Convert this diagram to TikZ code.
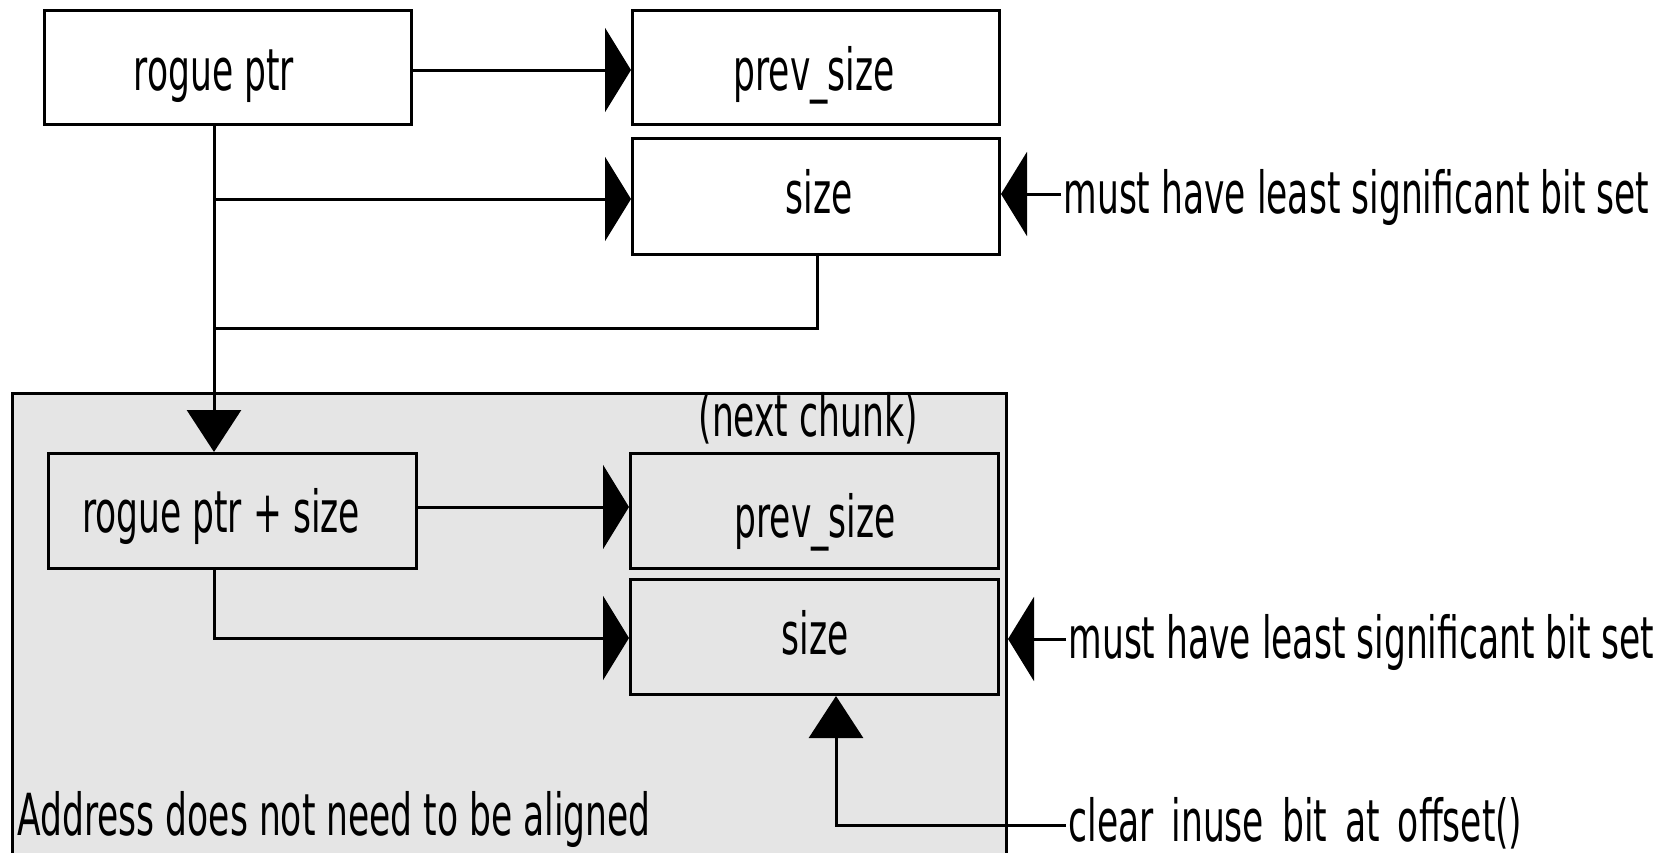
\documentclass[tikz,border=0pt]{standalone}
\usepackage{fontspec}
\setmainfont{DejaVu Sans}[FakeStretch=0.595]
\usetikzlibrary{arrows.meta}

\begin{document}
\begin{tikzpicture}[x=1pt,y=-1pt,line width=3pt,
  box/.style={draw,line width=3pt,anchor=north west,inner sep=0pt},
  chunkbox/.style={box,fill=black!10},
  txt/.style={inner sep=0pt,anchor=base,font=\fontsize{58}{62}\selectfont},
  ltxt/.style={txt,anchor=base west},
  harrow/.style={-{Triangle[length=26pt,width=84pt]}},
  varrow/.style={-{Triangle[length=42pt,width=54pt]}}]
\useasboundingbox (0,0) rectangle (1668,852);
\begin{scope}
\clip (0,0) rectangle (1668,852);

% upper chunk: pointer and its header fields
\node[box,minimum width=367pt,minimum height=114pt] (rp)  at (43,9)   {};
\node[box,minimum width=367pt,minimum height=114pt] (ps1) at (631,9)  {};
\node[box,minimum width=367pt,minimum height=116pt] (sz1) at (631,137) {};

% next chunk region
\node[chunkbox,minimum width=994pt,minimum height=480pt] (chunk) at (11,392) {};
\node[box,minimum width=368pt,minimum height=115pt] (rps) at (47,452)  {};
\node[box,minimum width=368pt,minimum height=115pt] (ps2) at (629,452) {};
\node[box,minimum width=368pt,minimum height=115pt] (sz2) at (629,578) {};

% labels
\node[txt] (trp)  at (214,90)  {rogue ptr};
\node[txt] (tps1) at (814,90)  {prev\_size};
\node[txt] (tsz1) at (819,213) {size};
\node[txt] (tnc)  at (808,436) {(next chunk)};
\node[txt] (trps) at (221,532) {rogue ptr + size};
\node[txt] (tps2) at (815,537) {prev\_size};
\node[txt] (tsz2) at (815,654) {size};
\node[ltxt] (note1) at (1062,213) {must have least significant bit set};
\node[ltxt] (note2) at (1067,658) {must have least significant bit set};
\node[ltxt] (note3) at (1067,841) {\spaceskip=18pt clear inuse bit at offset()};
\node[ltxt] (note4) at (16,835)  {Address does not need to be aligned};

% connectors
\coordinate (j1) at (214,199);
\coordinate (j2) at (214,328);
\draw[harrow] (rp.east |- 0,70) -- (ps1.west |- 0,70);
\draw[varrow] (rp.south -| j1) -- (rps.north -| j1);
\draw[harrow] (j1) -- (sz1.west |- j1);
\draw (sz1.south -| 817,0) |- (j2);
\draw[harrow] (rps.east |- 0,507) -- (ps2.west |- 0,507);
\draw[harrow] (rps.south -| j1) |- (sz2.west |- 0,638);

% annotation pointers
\coordinate (m1) at (1061,194);
\coordinate (m2) at (1066,639);
\coordinate (c1) at (1066,825);
\draw[harrow] (m1) -- (sz1.east |- m1);
\draw[harrow] (m2) -- (chunk.east |- m2);
\draw[varrow] (c1) -| (sz2.south -| 836,0);
\end{scope}
\end{tikzpicture}
\end{document}
